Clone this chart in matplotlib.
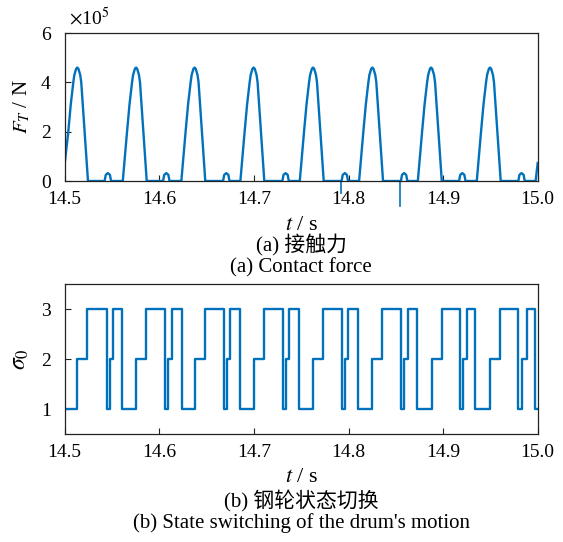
import matplotlib.pyplot as plt

plt.rcParams['font.family'] = ['Liberation Serif', 'Noto Sans CJK SC']
plt.rcParams['mathtext.fontset'] = 'stix'

blue = '#0072BD'
W, H = 563, 542

# ---- contact force, in units of 1e5 N ----
peak_t = [14.5133, 14.5754, 14.6373, 14.6997, 14.7625, 14.8252, 14.8873, 14.9496]
# main pulse shape around each peak (s offset, value)
pulse_dt = [-0.0140, -0.0095, -0.0069, -0.0042, -0.0031, -0.0012, 0.0,
            0.0012, 0.0031, 0.0042, 0.0077, 0.0113]
pulse_f = [0.0, 2.0, 3.1, 4.0, 4.3, 4.55, 4.6, 4.55, 4.3, 4.0, 2.0, 0.0]
# small rebound bumps
bump_t = [14.5456, 14.6074, 14.6708, 14.7335, 14.7961, 14.8588, 14.9203, 14.9829]
bump_dt = [-0.0034, -0.0022, 0.0, 0.0022, 0.0034]
bump_f = [0.0, 0.25, 0.32, 0.25, 0.0]
head_t, head_f = [14.5], [0.7]
tail_t, tail_f = [14.9978, 15.0], [0.0, 0.73]
# short negative spikes
spike_t = [14.7923, 14.8543]
spike_f = [-0.5, -1.0]

# ---- drum state ----
switch_t = [14.5135, 14.5241, 14.5444, 14.5474, 14.5511, 14.5606,
            14.5754, 14.5859, 14.6060, 14.6095, 14.6131, 14.6237,
            14.6377, 14.6483, 14.6684, 14.6719, 14.6747, 14.6853,
            14.7001, 14.7107, 14.7311, 14.7339, 14.7374, 14.7477,
            14.7628, 14.7734, 14.7928, 14.7963, 14.7998, 14.8104,
            14.8252, 14.8357, 14.8555, 14.8590, 14.8626, 14.8727,
            14.8886, 14.8985, 14.9179, 14.9213, 14.9249, 14.9337,
            14.9496, 14.9601, 14.9797, 14.9839, 14.9882, 14.9972]
switch_s = [2, 3, 1, 2, 3, 1,
            2, 3, 1, 2, 3, 1,
            2, 3, 1, 2, 3, 1,
            2, 3, 1, 2, 3, 1,
            2, 3, 1, 2, 3, 1,
            2, 3, 1, 2, 3, 1,
            2, 3, 1, 2, 3, 1,
            2, 3, 1, 2, 3, 1]

xticks = [14.5, 14.6, 14.7, 14.8, 14.9, 15.0]
xticklabels = ['14.5', '14.6', '14.7', '14.8', '14.9', '15.0']

# assemble force curve
pts = []
for p in peak_t:
    pts += [(p + d, f) for d, f in zip(pulse_dt, pulse_f)]
for b in bump_t:
    pts += [(b + d, f) for d, f in zip(bump_dt, bump_f)]
pts = sorted(q for q in pts if 14.5 < q[0] < tail_t[0])
force_t = head_t + [q[0] for q in pts] + tail_t
force_f = head_f + [q[1] for q in pts] + tail_f

fig = plt.figure(figsize=(W / 100, H / 100), dpi=100)
ax1 = fig.add_axes([64.7 / W, 1 - 181 / H, 473 / W, 148 / H])
ax2 = fig.add_axes([64.7 / W, 1 - 434 / H, 473 / W, 150 / H])

ax1.plot(force_t, force_f, color=blue, lw=1.7)
for st, sf in zip(spike_t, spike_f):
    ax1.plot([st, st], [0, sf], color=blue, lw=1.2, clip_on=False)
ax1.set_ylim(0, 6)
ax1.set_yticks([0, 2, 4, 6])
ax1.text(0.01, 1.03, r'$\times\mathregular{10}^{5}$', transform=ax1.transAxes,
         fontsize=14, ha='left', va='bottom')
ax1.set_ylabel(r'$F_T$ / N', fontsize=15)
ax1.yaxis.set_label_coords(-0.068, 0.5)

ax2.step([14.5] + switch_t + [15.0], [1] + switch_s + [1], where='post',
         color=blue, lw=1.7)
ax2.set_ylim(0.5, 3.5)
ax2.set_yticks([1, 2, 3])
ax2.set_ylabel(r'$\sigma_0$', fontsize=17)
ax2.yaxis.set_label_coords(-0.072, 0.5)

for ax in (ax1, ax2):
    ax.set_xlim(14.5, 15.0)
    ax.set_xticks(xticks)
    ax.set_xticklabels(xticklabels)
    ax.tick_params(direction='in', length=4, width=0.8, labelsize=14,
                   colors='#222222', labelcolor='black')
    ax.tick_params(axis='x', pad=7)
    ax.tick_params(axis='y', pad=10)
    for s in ax.spines.values():
        s.set_linewidth(0.9)
        s.set_color('#222222')

cx = (64.7 + 473 / 2) / W
fig.text(cx, 1 - 225 / H, r'$t$ / s', fontsize=16, ha='center', va='center')
fig.text(cx, 1 - 245 / H, '(a) 接触力', fontsize=15, ha='center', va='center')
fig.text(cx, 1 - 268 / H, '(a) Contact force', fontsize=15, ha='center', va='center')
fig.text(cx, 1 - 477 / H, r'$t$ / s', fontsize=16, ha='center', va='center')
fig.text(cx, 1 - 501 / H, '(b) 钢轮状态切换', fontsize=15, ha='center', va='center')
fig.text(cx, 1 - 523 / H, "(b) State switching of the drum's motion", fontsize=15,
         ha='center', va='center')

fig.savefig('out.png', dpi=100)
